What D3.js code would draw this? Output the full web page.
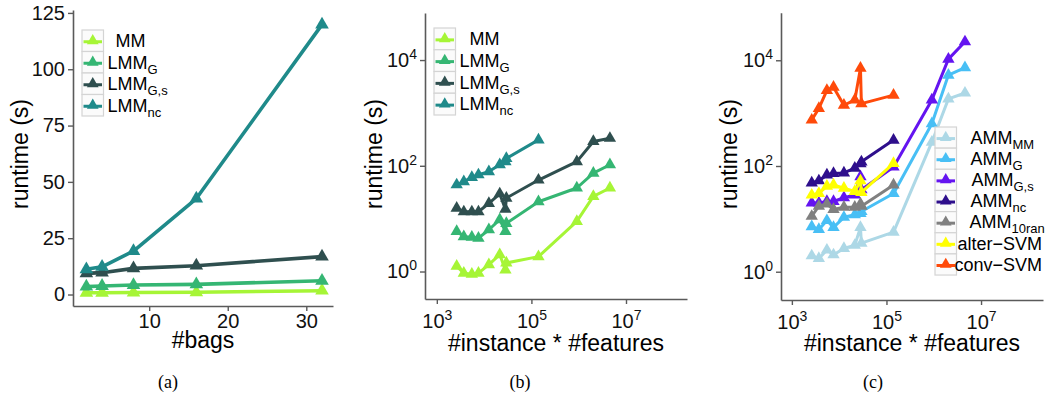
<!DOCTYPE html>
<html>
<head>
<meta charset="utf-8">
<script src="https://cdn.jsdelivr.net/npm/d3@7"></script>
<style>
  body { margin: 0; background: #fff; }
  svg text { font-family: "Liberation Sans", Arial, Helvetica, sans-serif; }
</style>
</head>
<body>
<svg width="1048" height="400"></svg>
<script>
// ---- panel (a): runtime vs #bags ----
const bags = [2, 4, 8, 16, 32];
const bagsMM = [0.8, 0.8, 0.9, 1.0, 1.7];
const bagsLMMG = [3.5, 3.8, 4.2, 4.5, 6.1];
const bagsLMMGs = [9.4, 9.7, 11.6, 12.8, 16.8];
const bagsLMMnc = [11.2, 12.3, 19.3, 42.6, 119.8];

// ---- panels (b) and (c): runtime vs #instance * #features ----
const sizes = [2630, 3720, 5500, 7590, 12600, 21400, 28200, 29500, 141000, 912000, 2040000, 4570000];

const lmmMM = [1.26, 0.93, 0.89, 0.93, 1.35, 2.09, 1.07, 1.45, 1.91, 8.9, 26.3, 38.0];
const lmmG = [5.75, 4.57, 4.47, 4.27, 6.17, 9.55, 5.75, 8.13, 20.9, 38.0, 72.4, 104.7];
const lmmGs = [15.8, 13.5, 13.5, 13.5, 19.5, 29.5, 15.1, 24.5, 53.7, 120, 288, 331];
const lmmNc = [43.7, 50.1, 60.3, 67.6, 77.6, 104.7, 120, 138, 309];

const ammMM = [2.0, 1.78, 2.57, 2.09, 2.75, 3.16, 6.9, 3.47, 5.6, 282, 1860, 2400];
const ammG = [7.1, 6.3, 9.3, 6.9, 10.7, 12.0, 12.6, 13.8, 30.2, 631, 5250, 7240];
const ammGs = [20, 20, 21.4, 21.4, 25.1, 28.2, 63, 35.5, 95.5, 1780, 10500, 22400];
const ammNc = [47.9, 52.5, 67.6, 72.4, 74.1, 91.2, 110, 120, 309];
const amm10ran = [11.2, 17.4, 19.1, 15.1, 16.6, 16.6, 19.1, 17.4, 43.7];
const alterSVM = [28.2, 30.2, 41.7, 43.7, 38.0, 33.1, 52.5, 31.6, 112];
const convSVM = [741, 1230, 2690, 3090, 1410, 1780, 7080, 1510, 2190];

// legend labels: [main text, subscript]
const labelsLMM = [["MM", ""], ["LMM", "G"], ["LMM", "G,s"], ["LMM", "nc"]];
const labelsAMM = [["AMM", "MM"], ["AMM", "G"], ["AMM", "G,s"], ["AMM", "nc"],
                   ["AMM", "10ran"], ["alter\u2212SVM", ""], ["conv\u2212SVM", ""]];

const bagsTicksX = [10, 20, 30];
const bagsTicksY = [0, 25, 50, 75, 100, 125];
const logTicksX = [1e3, 1e5, 1e7];
const logTicksY = [1e0, 1e2, 1e4];

const colLMM = ["#a6f536", "#35b673", "#2f4f4f", "#1f8a8a"];
const colAMM = ["#add8e6", "#48bff5", "#6414f0", "#2e0f8c", "#808080", "#ffff00", "#ff4a0a"];

const svg = d3.select("svg");

function styleAxis(g) {
  g.select(".domain").attr("stroke", "#5a5a5a").attr("stroke-width", 1.6);
  g.selectAll(".tick line").attr("stroke", "#5a5a5a").attr("stroke-width", 1.4);
  g.selectAll(".tick text").attr("fill", "#111").attr("font-size", 20)
    .attr("font-family", '"Liberation Sans", Arial, sans-serif');
}

function powerLabels(g) {
  g.selectAll(".tick text").each(function (d) {
    const t = d3.select(this).text("");
    t.append("tspan").text("10");
    t.append("tspan").attr("dy", -8).attr("font-size", 14)
      .text(Math.round(Math.log10(d)));
  });
}

function drawPanel(p) {
  const g = svg.append("g");

  const xAxis = d3.axisBottom(p.x).tickValues(p.xTicks).tickSize(5)
    .tickSizeOuter(0).tickPadding(p.log ? 10 : 3);
  const yAxis = d3.axisLeft(p.y).tickValues(p.yTicks).tickSize(5)
    .tickSizeOuter(0).tickPadding(3);
  if (p.log) {
    xAxis.tickFormat(() => "");
    yAxis.tickFormat(() => "");
  } else {
    xAxis.tickFormat(d3.format("d"));
    yAxis.tickFormat(d3.format("d"));
  }

  const xg = g.append("g")
    .attr("transform", `translate(0,${p.y.range()[0]})`)
    .call(xAxis).call(styleAxis);
  const yg = g.append("g")
    .attr("transform", `translate(${p.x.range()[0]},0)`)
    .call(yAxis).call(styleAxis);
  if (p.log) {
    xg.call(powerLabels);
    yg.call(powerLabels);
  }

  // axis titles
  g.append("text")
    .attr("x", d3.mean(p.x.range()))
    .attr("y", p.xTitleY)
    .attr("text-anchor", "middle")
    .attr("font-size", 23)
    .attr("fill", "#000")
    .text(p.xTitle);

  g.append("text")
    .attr("transform", `translate(${p.yTitleX},154) rotate(-90)`)
    .attr("text-anchor", "middle")
    .attr("font-size", 23)
    .attr("fill", "#000")
    .text("runtime (s)");

  // series
  const line = d3.line().x((d) => p.x(d[0])).y((d) => p.y(d[1]));
  const tri = d3.symbol(d3.symbolTriangle, p.markSize)();

  p.series.forEach((vals, i) => {
    const pts = vals.map((v, j) => [p.xs[j], v]);
    const sg = g.append("g");
    sg.append("path")
      .datum(pts)
      .attr("d", line)
      .attr("fill", "none")
      .attr("stroke", p.colors[i])
      .attr("stroke-width", p.lineWidth)
      .attr("stroke-linejoin", "round");
    sg.selectAll("path.pt")
      .data(pts)
      .enter()
      .append("path")
      .attr("class", "pt")
      .attr("d", tri)
      .attr("fill", p.colors[i])
      .attr("transform", (d) => `translate(${p.x(d[0])},${p.y(d[1])})`);
  });

  // legend
  const lg = g.append("g").attr("transform", `translate(${p.legend.x},${p.legend.y})`);
  const kw = 21.5, kh = p.legend.kh;
  const keyTri = d3.symbol(d3.symbolTriangle, 60)();
  p.labels.forEach((lab, i) => {
    const ky = i * kh;
    lg.append("rect")
      .attr("x", 0).attr("y", ky)
      .attr("width", kw).attr("height", kh)
      .attr("fill", "#fbfbfb")
      .attr("stroke", "#d4d4d4")
      .attr("stroke-width", 1.2);
    lg.append("line")
      .attr("x1", 1.5).attr("x2", kw - 1.5)
      .attr("y1", ky + kh / 2 + 1).attr("y2", ky + kh / 2 + 1)
      .attr("stroke", p.colors[i]).attr("stroke-width", 3);
    lg.append("path")
      .attr("d", keyTri)
      .attr("fill", p.colors[i])
      .attr("transform", `translate(${kw / 2},${ky + kh / 2})`);
    const t = lg.append("text")
      .attr("x", kw + 4 + p.legend.indent[i])
      .attr("y", ky + kh / 2)
      .attr("dy", "0.35em")
      .attr("font-size", 18)
      .attr("fill", "#000");
    t.append("tspan").text(lab[0]);
    if (lab[1]) {
      t.append("tspan").attr("font-size", 13).attr("dy", 5).text(lab[1]);
    }
  });

  // caption
  svg.append("text")
    .attr("x", p.caption.x)
    .attr("y", 388)
    .attr("text-anchor", "middle")
    .attr("font-size", 18)
    .attr("fill", "#000")
    .style("font-family", '"Liberation Serif", "Times New Roman", serif')
    .text(p.caption.text);
}

// (a)
drawPanel({
  x: d3.scaleLinear().domain([0.3, 33.4]).range([73, 333]),
  y: d3.scaleLinear().domain([-5.1, 126.3]).range([306, 10]),
  xTicks: bagsTicksX,
  yTicks: bagsTicksY,
  log: false,
  xs: bags,
  series: [bagsMM, bagsLMMG, bagsLMMGs, bagsLMMnc],
  colors: colLMM,
  labels: labelsLMM,
  markSize: 80,
  lineWidth: 3.6,
  xTitle: "#bags",
  xTitleY: 348,
  yTitleX: 28,
  legend: { x: 82, y: 30, kh: 21.5, indent: [8, 0, 0, 0] },
  caption: { x: 168, text: "(a)" },
});

// (b)
drawPanel({
  x: d3.scaleLog().domain([10 ** 2.75, 10 ** 8.29]).range([425, 687]),
  y: d3.scaleLog().domain([10 ** -0.52, 10 ** 4.89]).range([299, 13]),
  xTicks: logTicksX,
  yTicks: logTicksY,
  log: true,
  xs: sizes,
  series: [lmmMM, lmmG, lmmGs, lmmNc],
  colors: colLMM,
  labels: labelsLMM,
  markSize: 66,
  lineWidth: 3,
  xTitle: "#instance * #features",
  xTitleY: 351,
  yTitleX: 382,
  legend: { x: 434, y: 28, kh: 21.75, indent: [10, 0, 0, 0] },
  caption: { x: 520, text: "(b)" },
});

// (c)
drawPanel({
  x: d3.scaleLog().domain([10 ** 2.77, 10 ** 8.31]).range([781, 1043]),
  y: d3.scaleLog().domain([10 ** -0.535, 10 ** 4.9]).range([300, 12.7]),
  xTicks: logTicksX,
  yTicks: logTicksY,
  log: true,
  xs: sizes,
  series: [ammMM, ammG, ammGs, ammNc, amm10ran, alterSVM, convSVM],
  colors: colAMM,
  labels: labelsAMM,
  markSize: 66,
  lineWidth: 3,
  xTitle: "#instance * #features",
  xTitleY: 351,
  yTitleX: 737,
  legend: { x: 935, y: 127, kh: 21.15, indent: [10, 10, 11, 10, 9, -3, -6] },
  caption: { x: 873, text: "(c)" },
});
</script>
</body>
</html>
